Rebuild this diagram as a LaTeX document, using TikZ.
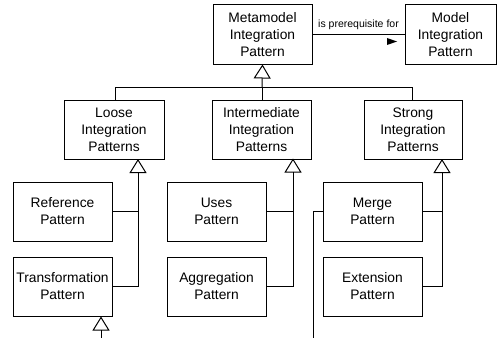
\documentclass[tikz,border=0pt]{standalone}
\usepackage{fontspec}
\setmainfont{Liberation Sans}
\usetikzlibrary{arrows.meta,calc}

\begin{document}
\begin{tikzpicture}[x=1pt,y=-1pt,
  box/.style={draw,line width=1pt,minimum width=99pt,minimum height=59pt,
    inner sep=0pt,align=center,
    font=\fontsize{13.8}{17}\selectfont},
  link/.style={line width=1pt},
  gen/.style={line width=1pt,-{Triangle[open,length=14pt,width=17pt,line width=1pt]}},
  lbl/.style={font=\fontsize{10.5}{12}\selectfont,inner sep=0pt}]

\useasboundingbox (0,0) rectangle (497,337);

% top level
\node[box] (meta)  at (262.5,34.5) {Metamodel\\Integration\\Pattern};
\node[box,minimum width=91pt] (model) at (450.5,34.5) {Model\\Integration\\Pattern};

% second level
\node[box,minimum width=100pt] (loose) at (114,129.5) {Loose\\Integration\\Patterns};
\node[box] (inter)  at (261.5,129.5) {Intermediate\\Integration\\Patterns};
\node[box,minimum width=98pt] (strong) at (413,129.5) {Strong\\Integration\\Patterns};

% patterns
\node[box] (ref)   at (62.5,211.5)  {Reference\\Pattern};
\node[box] (trans) at (62.5,286.5)  {Transformation\\Pattern};
\node[box] (uses)  at (216.5,211.5) {Uses\\Pattern};
\node[box] (aggr)  at (216.5,286.5) {Aggregation\\Pattern};
\node[box] (merge) at (372.5,211.5) {Merge\\Pattern};
\node[box] (ext)   at (372.5,286.5) {Extension\\Pattern};

% association with reading direction
\draw[link] (meta.east) -- node[lbl,above=4pt] {is prerequisite for} (model.west);
\fill (387,38) -- (397,41.5) -- (387,45) -- cycle;

% generalisation bar under the metamodel pattern
\coordinate (bar) at (262,87);
\coordinate (barL) at (115,87);
\coordinate (barR) at (412,87);
\draw[gen] (bar) -- (meta.south);
\draw[link] (barL) -- (barR);
\draw[link] (barL) -- (barL |- loose.north);
\draw[link] (bar) -- (bar |- inter.north);
\draw[link] (barR) -- (barR |- strong.north);

% children of the loose patterns
\coordinate (lj) at (138,159);
\draw[gen] (trans.east) -| (lj);
\draw[link] (ref.east) -- (ref.east -| lj);

% children of the intermediate patterns
\coordinate (ij) at (293,158.5);
\draw[gen] (aggr.east) -| (ij);
\draw[link] (uses.east) -- (uses.east -| ij);

% children of the strong patterns
\coordinate (sj) at (442,159);
\draw[gen] (ext.east) -| (sj);
\draw[link] (merge.east) -- (merge.east -| sj);

% connectors leaving the page
\coordinate (tin) at (101,340);
\draw[gen] (tin) -- (tin |- trans.south);
\coordinate (mout) at (313,340);
\draw[link] (merge.west) -| (mout);

\end{tikzpicture}
\end{document}
